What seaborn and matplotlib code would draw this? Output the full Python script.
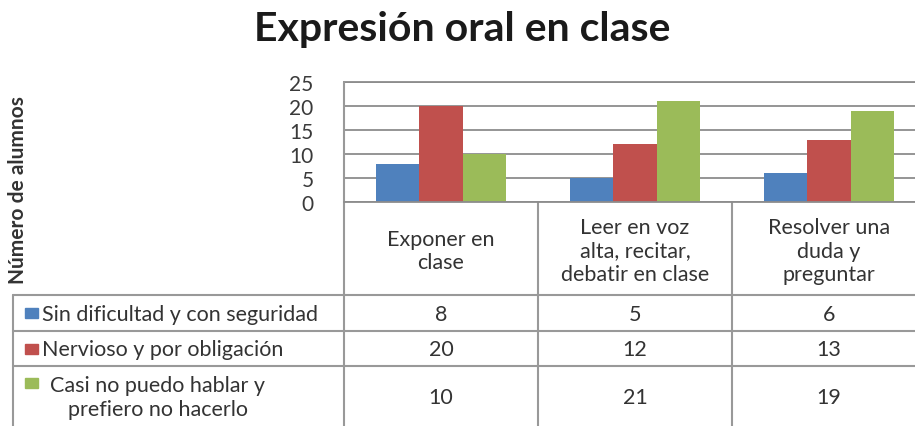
import numpy as np
import pandas as pd
import matplotlib
matplotlib.use("Agg")
import matplotlib.pyplot as plt
import seaborn as sns

# --- Data ---
categories = ["Exponer en\nclase", "Leer en voz\nalta, recitar,\ndebatir en clase", "Resolver una\nduda y\npreguntar"]
series = ["Sin dificultad y con seguridad", "Nervioso y por obligación", "Casi no puedo hablar y\nprefiero no hacerlo"]
sin_dificultad = [8, 5, 6]
nervioso = [20, 12, 13]
casi_no = [10, 21, 19]
colors = ["#4F81BD", "#C0504D", "#9BBB59"]
y_ticks = [0, 5, 10, 15, 20, 25]

values = [sin_dificultad, nervioso, casi_no]
df = pd.DataFrame({
    "categoria": categories * 3,
    "serie": [s for s in series for _ in categories],
    "alumnos": sin_dificultad + nervioso + casi_no,
})

sns.set_theme(style="white")
plt.rcParams["font.family"] = ["Lato", "DejaVu Sans"]

W, H = 915, 427
fig = plt.figure(figsize=(W / 100, H / 100), dpi=100)

def fx(px):
    return px / W

def fy(py):
    return 1 - py / H

# pixel layout of the Excel chart
plot_left, plot_right, plot_top, plot_bottom = 344, 926, 83, 203
col_edges = [344, 538, 732, 926]
row_edges = [203, 296, 332, 367, 440]
table_left = 13
grid_col = "#8c8c8c"

ax = fig.add_axes([fx(plot_left), fy(plot_bottom), fx(plot_right - plot_left), (plot_bottom - plot_top) / H])
sns.barplot(data=df, x="categoria", y="alumnos", hue="serie", palette=colors,
            width=0.665, gap=0, saturation=1, linewidth=0, ax=ax, legend=False)
ax.set_ylim(0, 25)
ax.set_xlim(-0.5, len(categories) - 0.5)
ax.set_yticks(y_ticks)
ax.yaxis.grid(True, color=grid_col, linewidth=1.3)
ax.set_axisbelow(True)
ax.set_xticks([])
ax.set_xlabel("")
ax.set_ylabel("")
ax.tick_params(axis="y", length=0, pad=22, labelsize=15, labelcolor="#3a3a3a")
for s in ["right", "bottom"]:
    ax.spines[s].set_visible(False)
for s in ["top", "left"]:
    ax.spines[s].set_color(grid_col)
    ax.spines[s].set_linewidth(1.3)

# --- Data table below the plot ---
tax = fig.add_axes([0, 0, 1, 1])
tax.set_xlim(0, W)
tax.set_ylim(H, 0)
tax.axis("off")
lc = "#999999"
lw = 1.5
# vertical lines of category columns
for x in col_edges:
    tax.plot([x, x], [plot_top if x == col_edges[0] else plot_bottom, H], color=lc, lw=lw)
tax.plot([table_left, table_left], [row_edges[1], H], color=lc, lw=lw)
# horizontal lines
tax.plot([plot_left, W], [row_edges[0], row_edges[0]], color=grid_col, lw=1.3)
for y in row_edges[1:4]:
    tax.plot([table_left, W], [y, y], color=lc, lw=lw)

txt_col = "#333333"
fs = 15.5
for j, cat in enumerate(categories):
    cx = (col_edges[j] + col_edges[j + 1]) / 2
    tax.text(cx, (row_edges[0] + row_edges[1]) / 2 + 2, cat, ha="center", va="center",
             fontsize=fs, color=txt_col, linespacing=1.2)
    for i in range(len(series)):
        cy = (row_edges[i + 1] + min(row_edges[i + 2], H)) / 2
        tax.text(cx, cy + 1, str(values[i][j]), ha="center", va="center", fontsize=fs, color=txt_col)

for i, name in enumerate(series):
    top = row_edges[i + 1]
    cy = (top + min(row_edges[i + 2], H)) / 2
    if "\n" in name:
        tax.text(158, cy + 1, name, ha="center", va="center", fontsize=fs, color=txt_col,
                 linespacing=1.2, multialignment="center")
        ky = top + 17
    else:
        tax.text(42, cy + 1, name, ha="left", va="center", fontsize=fs, color=txt_col)
        ky = cy
    tax.add_patch(plt.Rectangle((25, ky - 5), 13, 10, color=colors[i]))

# title and y label
fig.text(fx(462), fy(30), "Expresión oral en clase", ha="center", va="center",
         fontsize=29.5, fontweight="bold", color="#1a1a1a")
fig.text(fx(18), fy(190), "Número de alumnos", ha="center", va="center", rotation=90,
         fontsize=15, fontweight="bold", color="#333333")

fig.savefig("out.png", dpi=100)
